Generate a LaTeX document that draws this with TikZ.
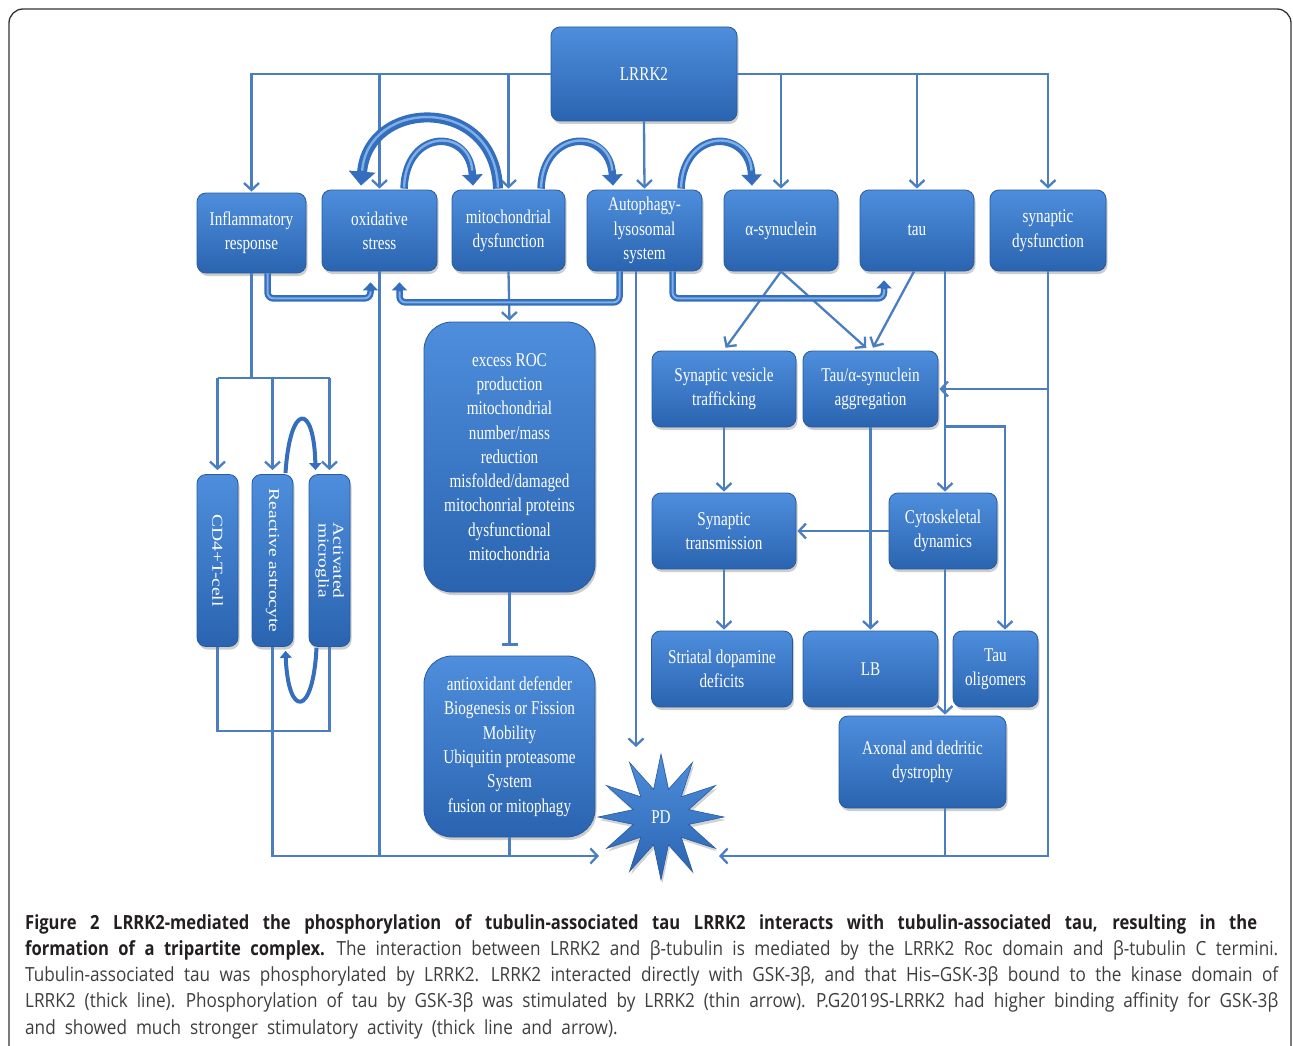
\documentclass[tikz,border=0pt]{standalone}
\usepackage{fontspec}
\usepackage{graphicx}
\newfontfamily\boxfont{Liberation Serif}[FakeStretch=0.78]
\newfontfamily\boxfontr{Liberation Serif}
\newfontfamily\capfont{Open Sans}[FakeStretch=0.88, BoldFeatures={FakeStretch=0.85}]
\usetikzlibrary{arrows.meta,shapes.geometric,shadows,calc}
\definecolor{boxtop}{RGB}{78,142,220}
\definecolor{boxbot}{RGB}{42,100,176}
\definecolor{boxedge}{RGB}{40,90,158}
\definecolor{linec}{RGB}{74,126,193}
\definecolor{arrc}{RGB}{52,110,188}
\definecolor{arrlight}{RGB}{125,175,232}
\definecolor{capbold}{RGB}{35,31,32}
\definecolor{capreg}{RGB}{62,62,62}
\definecolor{framec}{RGB}{50,50,50}
\newcommand{\capsp}{\spaceskip=9pt plus 8pt minus 2pt\relax}
\tikzset{
  box/.style={rounded corners=9pt, top color=boxtop, bottom color=boxbot, draw=boxedge,
    line width=0.8pt, text=white, align=center, inner sep=1pt,
    font=\boxfont\fontsize{19.5}{24.3}\selectfont,
    drop shadow={shadow xshift=1.5pt, shadow yshift=-3pt, opacity=0.28, fill=black!70}},
  bigbox/.style={box, rounded corners=28pt},
  sz/.style 2 args={minimum width=#1pt, minimum height=#2pt},
  conn/.style={draw=linec, line width=2.3pt},
  arr/.style={conn, -{Straight Barb[length=7pt,width=15pt]}, shorten >=1pt},
  tbar/.style={conn, -{Bar[width=16pt]}},
  bent/.style={draw=arrc, line width=6.5pt, rounded corners=6pt, -{Triangle[length=8pt,width=15pt]}},
  benthi/.style={draw=arrlight, line width=2pt, rounded corners=6pt, shorten >=9pt},
  bigarr/.style={draw=arrc, line width=10pt, -{Triangle[length=14pt,width=26pt]}},
  midarr/.style={draw=arrc, line width=7.5pt, -{Triangle[length=11pt,width=20pt]}},
  curvehi/.style={draw=arrlight, line width=2.4pt, shorten >=15pt, shorten <=1pt},
  smallcurve/.style={draw=arrc, line width=4pt, -{Triangle[length=7pt,width=12pt]}},
  capline/.style={anchor=base west, inner sep=0pt, font=\capfont\fontsize{19.5}{26}\selectfont},
  frame/.style={draw=framec, line width=1.3pt, rounded corners=14pt}
}
\newcommand{\rtext}[1]{\rotatebox{-90}{\boxfontr\fontsize{19.5}{22}\selectfont\scalebox{1}[0.78]{#1}}}
\newcommand{\capb}[1]{{\color{capbold}\bfseries #1}}
\begin{document}
\begin{tikzpicture}[x=1pt,y=-1pt]
\useasboundingbox (0,0) rectangle (1293,1046);
\begin{scope}
\clip (0,0) rectangle (1293,1046);
\draw[frame] (9,9) rectangle (1291,1090);
\end{scope}

% ---------- nodes ----------
\node[box, sz={186}{94}] (lrrk2) at (644,74) {LRRK2};
\node[box, sz={109}{80}] (infl) at (251.5,233) {Inflammatory\\response};
\node[box, sz={115}{81}] (oxi) at (379.5,230.5) {oxidative\\stress};
\node[box, sz={113}{81}] (mito) at (508.5,230.5) {mitochondrial\\dysfunction};
\node[box, sz={115}{81}] (auto) at (644.5,230.5) {Autophagy-\\lysosomal\\system};
\node[box, sz={114}{81}] (asyn) at (781,230.5) {α-synuclein};
\node[box, sz={114}{81}] (tau) at (917,230.5) {tau};
\node[box, sz={116}{81}] (syndys) at (1048,230.5) {synaptic\\dysfunction};

\node[box, sz={41}{172}] (cd4) at (217.5,560.5) {\rtext{CD4+T-cell}};
\node[box, sz={41}{172}] (astro) at (272.5,560.5) {\rtext{Reactive astrocyte}};
\node[box, sz={41}{172}] (micro) at (329.5,560.5) {\rtext{\begin{tabular}{@{}c@{}}Activated\\[-3pt]microglia\end{tabular}}};

\node[bigbox, sz={171}{270}] (roc) at (509.5,457) {excess ROC\\production\\mitochondrial\\number/mass\\reduction\\misfolded/damaged\\mitochonrial proteins\\dysfunctional\\mitochondria};
\node[bigbox, sz={171}{181}] (anti) at (509.5,746.5) {antioxidant defender\\Biogenesis or Fission\\Mobility\\Ubiquitin proteasome\\System\\fusion or mitophagy};

\node[box, sz={144}{76}] (svt) at (724,389) {Synaptic vesicle\\trafficking};
\node[box, sz={135}{76}] (agg) at (870.5,389) {Tau/α-synuclein\\aggregation};
\node[box, sz={144}{76}] (stx) at (724,531) {Synaptic\\transmission};
\node[box, sz={108}{76}] (cyto) at (943,531) {Cytoskeletal\\dynamics};
\node[box, sz={141}{76}] (striatal) at (722,669) {Striatal dopamine\\deficits};
\node[box, sz={135}{76}] (lb) at (870.5,669) {LB};
\node[box, sz={85}{76}] (tauol) at (995.5,669) {Tau\\oligomers};
\node[box, sz={167}{92}] (axon) at (922.5,762) {Axonal and dedritic\\dystrophy};

\node[star, star points=12, star point ratio=2.2, minimum size=126pt, inner sep=0pt,
      top color=boxtop, bottom color=boxbot, draw=boxedge, line width=0.6pt, text=white,
      font=\boxfont\fontsize{19.5}{24}\selectfont,
      drop shadow={shadow xshift=1.5pt, shadow yshift=-3pt, opacity=0.25, fill=black!70}] (pd) at (661,817) {PD};

% ---------- coordinates ----------
\coordinate (ibar) at (251.5,378);
\coordinate (lbus) at (272.5,856);
\coordinate (pdL) at (600,856);
\coordinate (pdR) at (718,856);
\coordinate (pdT) at (636,748);
\coordinate (tx) at ($(tau.south)+(28,0)$);
\coordinate (cx) at ($(cyto.south)+(2,0)$);
\coordinate (tb) at ($(tau.south)+(28,155)$);

% ---------- LRRK2 connectors ----------
\draw[arr] (lrrk2.west) -| (infl.north);
\draw[arr] (lrrk2.west -| oxi.north) -- (oxi.north);
\draw[arr] (lrrk2.west -| mito.north) -- (mito.north);
\draw[arr] (lrrk2.south) -- (auto.north);
\draw[arr] (lrrk2.east) -| (syndys.north);
\draw[arr] (lrrk2.east -| asyn.north) -- (asyn.north);
\draw[arr] (lrrk2.east -| tau.north) -- (tau.north);

% ---------- inflammatory branch ----------
\draw[conn] (infl.south) -- (ibar);
\draw[conn] (cd4.north |- ibar) -- (micro.north |- ibar);
\draw[arr, shorten >=4pt] (cd4.north |- ibar) -- (cd4.north);
\draw[arr, shorten >=4pt] (astro.north |- ibar) -- (astro.north);
\draw[arr, shorten >=4pt] (micro.north |- ibar) -- (micro.north);
\draw[smallcurve] ($(astro.north)+(13,-1)$) .. controls (290,402) and (314,402) .. ($(micro.north)+(-14,-4)$);
\draw[smallcurve] ($(micro.south)+(-13,1)$) .. controls (313,718) and (288,718) .. ($(astro.south)+(13,4)$);
\draw[conn] (cd4.south) -- ++(0,84) -| (micro.south);
\draw[arr] (astro.south) -- (lbus) -- (pdL);
\draw[conn] (oxi.south) -- (oxi.south |- lbus);
\draw[conn] (anti.south) -- (anti.south |- lbus);

% ---------- mitochondrial branch ----------
\draw[arr] (mito.south) -- (roc.north);
\draw[tbar] (roc.south) -- ($(anti.north)+(0,-10)$);
\draw[arr] ($(auto.south)+(-8.5,0)$) -- (pdT);

% ---------- right side ----------
\draw[arr] (asyn.south) -- ($(svt.north)+(1,-2)$);
\draw[arr] (asyn.south) -- ($(agg.north)+(-3.5,-2)$);
\draw[arr] ($(tau.south)+(-3,0)$) -- ($(agg.north)+(2,-2)$);
\draw[arr] (tx) -- (tx |- cyto.north);
\draw[arr] (tb) -| ($(tauol.north)+(9.5,0)$);
\draw[arr] (syndys.south) -- (syndys.south |- lbus) -- (pdR);
\draw[arr] (syndys.south |- agg.east) -- (agg.east);
\draw[arr] (svt.south) -- (stx.north);
\draw[arr] (cyto.west) -- (stx.east);
\draw[arr] (stx.south) -- (stx.south |- striatal.north);
\draw[arr] (agg.south) -- (lb.north);
\draw[arr] (cx) -- (cx |- axon.north);
\draw[conn] ($(striatal.south)+(8,0)$) -- ($(striatal.south)+(8,0)$ |- lbus);
\draw[conn] ($(lb.south)+(-40,0)$) -- ($(lb.south)+(-40,0)$ |- lbus);
\draw[conn] (cx |- axon.south) -- (cx |- lbus);
\draw[conn] ($(tauol.south)+(14.5,0)$) -- ($(tauol.south)+(14.5,0)$ |- lbus);

% ---------- thick bent arrows ----------
\draw[bent] ($(infl.south)+(16,0)$) -- ++(0,25) -| ($(oxi.south)+(-9,11)$);
\draw[benthi] ($(infl.south)+(16,0)$) -- ++(0,25) -| ($(oxi.south)+(-9,11)$);
\draw[bent] ($(auto.south)+(-25,0)$) -- ++(0,31) -| ($(oxi.south)+(20,11)$);
\draw[benthi] ($(auto.south)+(-25,0)$) -- ++(0,31) -| ($(oxi.south)+(20,11)$);
\draw[bent] ($(auto.south)+(28,0)$) -- ++(0,27) -| ($(tau.south)+(-33,9)$);
\draw[benthi] ($(auto.south)+(28,0)$) -- ++(0,27) -| ($(tau.south)+(-33,9)$);

% ---------- thick curved arrows ----------
\draw[bigarr] ($(mito.north)+(-10.5,-1)$) .. controls (495,95) and (368,98) .. ($(oxi.north)+(-18.5,-4)$);
\draw[curvehi] ($(mito.north)+(-10.5,-1)$) .. controls (495,95) and (368,98) .. ($(oxi.north)+(-18.5,-4)$);
\draw[midarr] ($(oxi.north)+(24.5,-1)$) .. controls (406,128) and (470,128) .. ($(mito.north)+(-35.5,-4)$);
\draw[curvehi] ($(oxi.north)+(24.5,-1)$) .. controls (406,128) and (470,128) .. ($(mito.north)+(-35.5,-4)$);
\draw[midarr] ($(mito.north)+(32.5,-1)$) .. controls (543,128) and (610,128) .. ($(auto.north)+(-31.5,-4)$);
\draw[curvehi] ($(mito.north)+(32.5,-1)$) .. controls (543,128) and (610,128) .. ($(auto.north)+(-31.5,-4)$);
\draw[midarr] ($(auto.north)+(36.5,-1)$) .. controls (683,128) and (750,128) .. ($(asyn.north)+(-29,-4)$);
\draw[curvehi] ($(auto.north)+(36.5,-1)$) .. controls (683,128) and (750,128) .. ($(asyn.north)+(-29,-4)$);

% ---------- caption ----------
\node[capline] (cap1) at (25,929) {\capsp\makebox[1232pt][s]{\capb{Figure 2 LRRK2-mediated the phosphorylation of tubulin-associated tau LRRK2 interacts with tubulin-associated tau, resulting in the}}};
\node[capline] (cap2) at (25,955) {\capsp\makebox[1253pt][s]{\capb{formation of a tripartite complex.} \color{capreg}The interaction between LRRK2 and β-tubulin is mediated by the LRRK2 Roc domain and β-tubulin C termini.}};
\node[capline, text=capreg] (cap3) at (25,981) {\capsp\makebox[1253pt][s]{Tubulin-associated tau was phosphorylated by LRRK2. LRRK2 interacted directly with GSK-3β, and that His–GSK-3β bound to the kinase domain of}};
\node[capline, text=capreg] (cap4) at (25,1007) {\capsp\makebox[1253pt][s]{LRRK2 (thick line). Phosphorylation of tau by GSK-3β was stimulated by LRRK2 (thin arrow). P.G2019S-LRRK2 had higher binding affinity for GSK-3β}};
\node[capline, text=capreg] (cap5) at (25,1034) {\capsp and showed much stronger stimulatory activity (thick line and arrow).};
\end{tikzpicture}
\end{document}
